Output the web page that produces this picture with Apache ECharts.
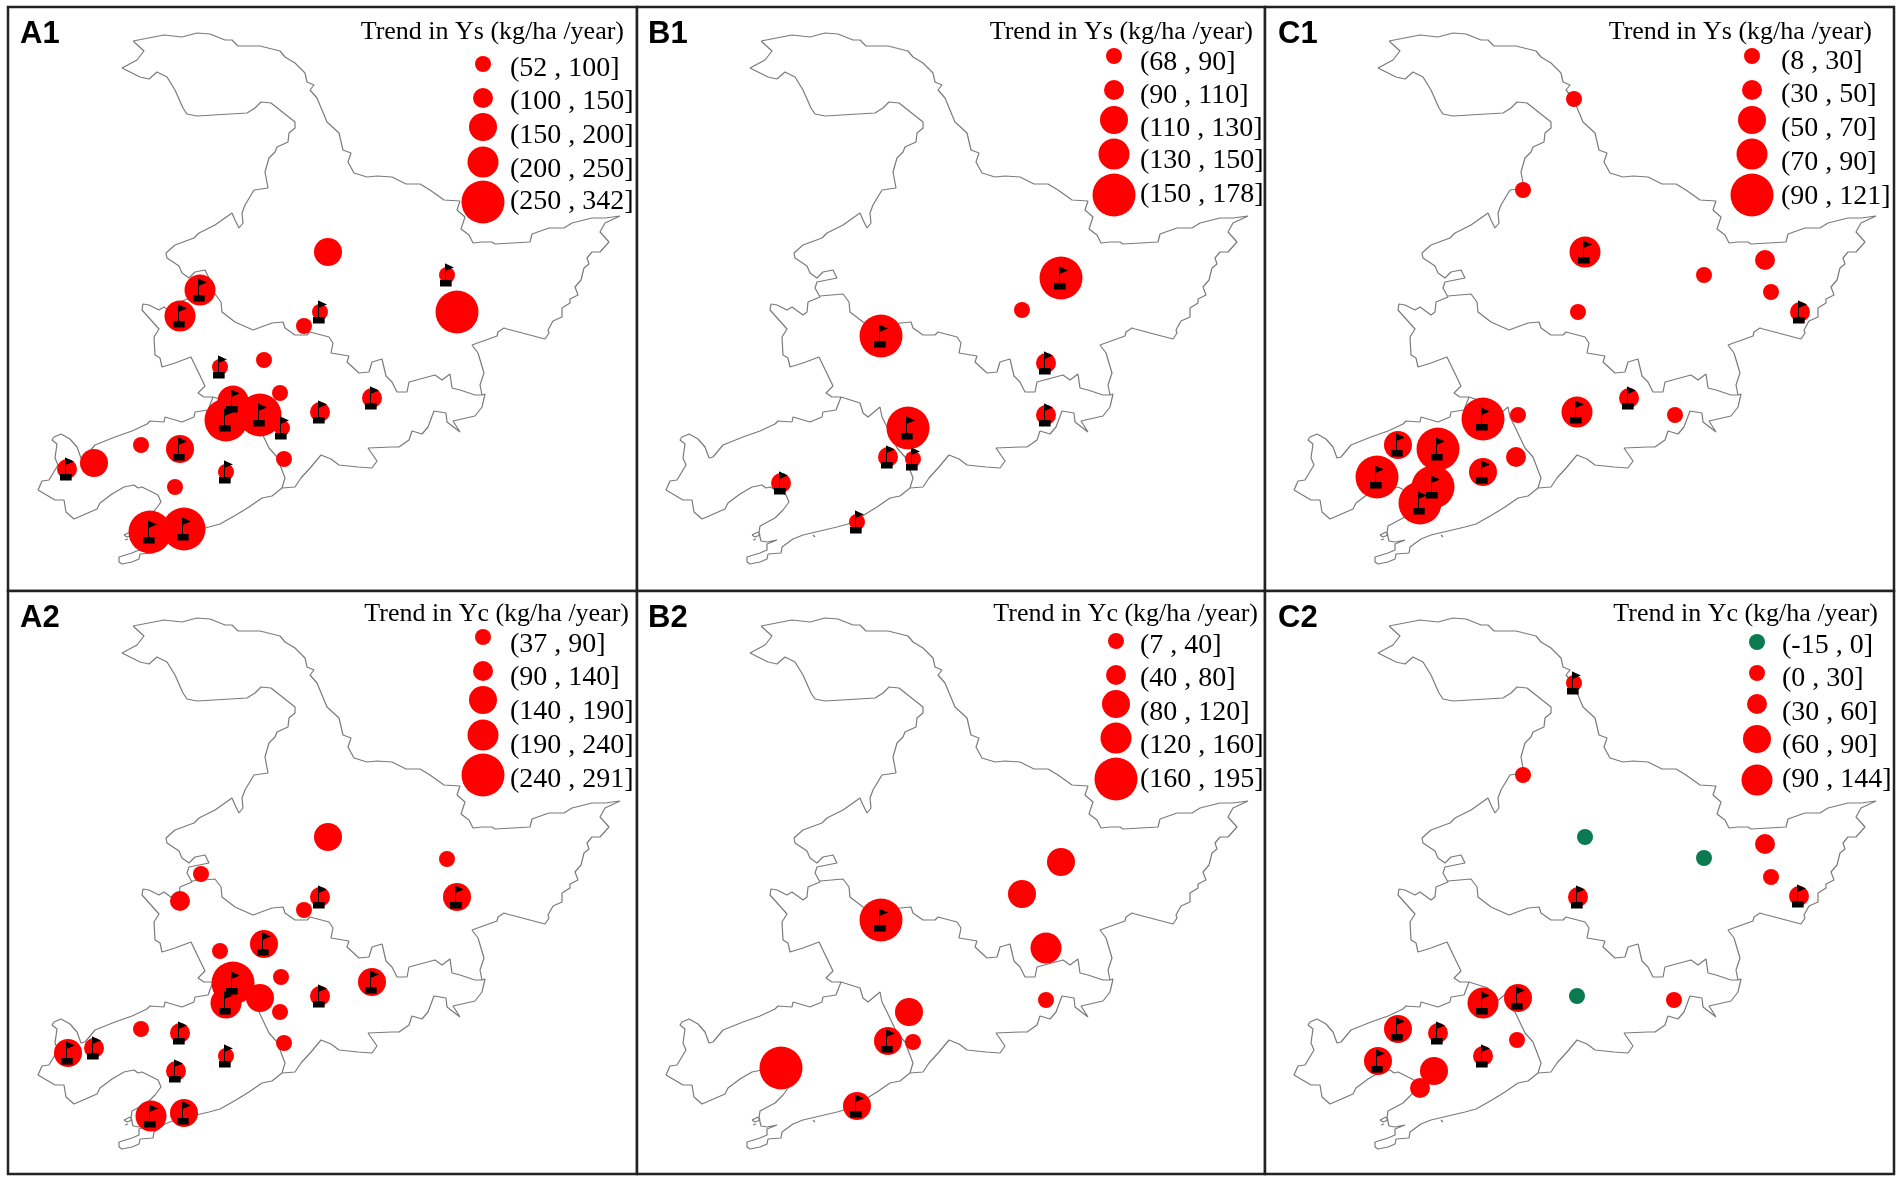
<!DOCTYPE html>
<html>
<head>
<meta charset="utf-8">
<title>Trend in Ys and Yc</title>
<script src="https://cdn.jsdelivr.net/npm/echarts@6/dist/echarts.min.js"></script>
<style>
  html, body { margin: 0; padding: 0; background: #fff; }
  #main { width: 1902px; height: 1182px; }
</style>
</head>
<body>
<div id="main"></div>
<script>
// outline of the study region, map units
let outerRing = [[761,41],[792,35],[793,37],[810,37],[825,33],[838,34],[853,40],[860,40],[866,46],[888,46],[908,51],[913,57],[923,63],[933,73],[935,82],[942,85],[938,90],[945,98],[955,122],[967,133],[971,150],[979,153],[976,162],[982,173],[995,177],[1005,176],[1020,177],[1034,184],[1048,184],[1058,190],[1072,200],[1088,201],[1085,210],[1093,217],[1089,229],[1097,235],[1101,243],[1110,242],[1120,242],[1123,244],[1158,242],[1160,234],[1177,228],[1192,228],[1200,223],[1220,218],[1233,218],[1248,216],[1248,218],[1233,223],[1228,232],[1237,242],[1228,252],[1220,252],[1215,258],[1217,264],[1212,268],[1209,280],[1203,287],[1206,295],[1198,299],[1198,303],[1190,308],[1190,317],[1181,321],[1176,330],[1177,333],[1173,339],[1135,329],[1132,328],[1126,332],[1125,336],[1100,345],[1106,353],[1112,373],[1108,385],[1110,395],[1113,394],[1110,407],[1103,416],[1081,421],[1088,432],[1075,422],[1074,413],[1062,411],[1056,427],[1050,434],[1040,431],[1037,440],[1027,447],[1020,447],[996,448],[1005,461],[1000,468],[986,467],[967,465],[959,459],[949,455],[939,467],[929,478],[923,487],[910,488],[900,496],[890,498],[877,507],[864,515],[848,524],[837,527],[820,531],[803,535],[793,539],[782,547],[781,553],[768,554],[767,559],[760,562],[750,564],[747,562],[747,557],[760,553],[767,550],[767,544],[777,540],[767,542],[761,541],[759,533],[760,526],[775,518],[783,510],[789,502],[786,495],[770,487],[766,488],[762,485],[752,487],[740,494],[728,503],[725,509],[702,519],[694,512],[692,500],[683,500],[666,490],[670,481],[677,480],[686,465],[683,458],[685,444],[680,440],[682,437],[689,434],[698,439],[705,447],[709,458],[713,457],[723,445],[743,437],[760,431],[775,424],[778,421],[792,422],[793,417],[810,422],[822,417],[823,412],[836,410],[841,397],[832,397],[826,393],[833,386],[819,357],[803,363],[790,367],[788,358],[783,355],[782,337],[787,329],[770,310],[771,304],[777,305],[787,310],[792,307],[803,315],[807,312],[808,302],[820,297],[815,288],[817,282],[837,278],[833,270],[823,272],[817,278],[810,273],[807,266],[795,258],[794,253],[803,245],[822,238],[827,233],[843,225],[860,213],[863,220],[867,228],[871,223],[870,213],[873,205],[882,190],[896,188],[893,172],[897,158],[903,152],[905,147],[916,142],[917,133],[923,128],[923,122],[899,103],[889,102],[883,108],[875,113],[825,116],[815,114],[811,108],[803,90],[795,77],[785,72],[777,79],[768,77],[750,68],[765,60],[772,51],[761,41]];
let borderNorth = [[820,296],[843,294],[849,302],[850,312],[863,322],[881,330],[900,323],[911,322],[913,328],[923,335],[935,335],[938,332],[957,337],[961,343],[959,353],[977,356],[975,362],[987,373],[997,372],[1000,362],[1010,359],[1014,376],[1020,382],[1025,392],[1035,392],[1037,382],[1063,375],[1070,380],[1078,374],[1080,388],[1088,390],[1103,395],[1110,395]];
let borderSouth = [[841,397],[860,403],[863,413],[868,417],[880,407],[882,417],[887,427],[897,448],[905,457],[913,478],[910,488]];
let islandA = [[752,535],[758,532],[760,535],[755,537],[752,535]];
let islandB = [[753,540],[756,539],[758,541],[754,541],[753,540]];
let islandC = [[813,535],[815,535],[815,537],[813,537],[813,535]];

// sites: x, y, size class (0 = negative trend in C2), flag
let sitesA1 = [[956,252,3,0],[1075,275,1,1],[1085,312,5,0],[948,312,1,1],[932,326,1,0],[828,290,4,1],[808,316,4,1],[848,367,1,1],[892,360,1,0],[861,401,4,1],[854,420,5,1],[888,415,5,1],[908,393,1,0],[910,428,1,1],[948,412,2,1],[1000,398,2,1],[912,459,1,0],[808,449,3,1],[769,445,1,0],[722,463,3,0],[695,469,2,1],[854,472,1,1],[803,487,1,0],[778,532,5,1],[812,529,5,1]];
let sitesB1 = [[1061,278,5,1],[1022,310,1,0],[1046,363,2,1],[881,336,5,1],[1046,415,2,1],[908,428,5,1],[888,457,2,1],[913,459,1,1],[781,483,2,1],[857,522,1,1]];
let sitesC1 = [[946,99,1,0],[895,190,1,0],[957,252,4,1],[1076,275,1,0],[1137,260,2,0],[1143,292,1,0],[950,312,1,0],[1172,312,2,1],[855,419,5,1],[890,415,1,0],[949,412,4,1],[1001,398,2,1],[1047,415,1,0],[770,445,3,1],[810,449,5,1],[888,457,2,0],[855,472,3,1],[749,477,5,1],[805,487,5,1],[792,503,5,1]];
let sitesA2 = [[956,252,3,0],[1075,274,1,0],[1085,312,3,1],[948,312,2,1],[932,325,1,0],[829,289,1,0],[808,316,2,0],[848,366,1,0],[892,359,3,1],[861,398,5,1],[854,418,4,1],[888,413,3,0],[909,392,1,0],[908,427,1,0],[948,411,2,1],[1000,397,3,1],[912,458,1,0],[808,448,2,1],[769,444,1,0],[722,463,2,1],[696,468,3,1],[854,471,1,1],[804,486,2,1],[779,531,4,1],[812,528,3,1]];
let sitesB2 = [[1061,277,3,0],[1022,309,3,0],[1046,363,4,0],[881,335,5,1],[1046,415,1,0],[909,427,3,0],[888,456,3,1],[913,457,1,0],[781,483,5,0],[857,521,3,1]];
let sitesC2 = [[946,98,1,1],[895,190,1,0],[957,252,0,0],[1076,273,0,0],[1137,259,2,0],[1143,292,1,0],[950,312,2,1],[1171,311,2,1],[855,418,4,1],[890,413,3,1],[949,411,0,0],[1046,415,1,0],[770,444,3,1],[810,448,2,1],[889,455,1,0],[855,471,2,1],[750,476,3,1],[806,486,3,0],[792,503,2,0]];

// legend ranges
let rangesA1 = ["(52 , 100]", "(100 , 150]", "(150 , 200]", "(200 , 250]", "(250 , 342]"];
let rangesB1 = ["(68 , 90]", "(90 , 110]", "(110 , 130]", "(130 , 150]", "(150 , 178]"];
let rangesC1 = ["(8 , 30]", "(30 , 50]", "(50 , 70]", "(70 , 90]", "(90 , 121]"];
let rangesA2 = ["(37 , 90]", "(90 , 140]", "(140 , 190]", "(190 , 240]", "(240 , 291]"];
let rangesB2 = ["(7 , 40]", "(40 , 80]", "(80 , 120]", "(120 , 160]", "(160 , 195]"];
let rangesC2 = ["(-15 , 0]", "(0 , 30]", "(30 , 60]", "(60 , 90]", "(90 , 144]"];

let RED = "#fe0000";
let GREEN = "#0b7a50";
let classSize = [16, 16, 20, 28, 31, 43];
let flagIcon = "path://M16 0L42 12L18 22L18 50L35 50L35 70L0 70L0 50L15 50L15 0Z";

let panels = [
  { name: "A1", sites: sitesA1, ranges: rangesA1, title: "Trend in Ys (kg/ha /year)", x0: 8, x1: 637, y0: 7, y1: 591, dx: -628, dy: 0,
    nameX: 20, nameY: 36, titleX: 624, titleY: 32, iconX: 483, labelX: 510, iconY: [64, 98, 127, 162, 202], labelY: [69, 102, 136, 170, 202], sizes: [1, 2, 3, 4, 5] },
  { name: "B1", sites: sitesB1, ranges: rangesB1, title: "Trend in Ys (kg/ha /year)", x0: 637, x1: 1265, y0: 7, y1: 591, dx: 0, dy: 0,
    nameX: 648, nameY: 36, titleX: 1253, titleY: 32, iconX: 1114, labelX: 1140, iconY: [56, 90, 120, 154, 195], labelY: [63, 96, 129, 161, 195], sizes: [1, 2, 3, 4, 5] },
  { name: "C1", sites: sitesC1, ranges: rangesC1, title: "Trend in Ys (kg/ha /year)", x0: 1265, x1: 1894, y0: 7, y1: 591, dx: 628, dy: 0,
    nameX: 1278, nameY: 36, titleX: 1872, titleY: 32, iconX: 1752, labelX: 1781, iconY: [56, 90, 120, 154, 195], labelY: [62, 95, 129, 163, 197], sizes: [1, 2, 3, 4, 5] },
  { name: "A2", sites: sitesA2, ranges: rangesA2, title: "Trend in Yc (kg/ha /year)", x0: 8, x1: 637, y0: 591, y1: 1174, dx: -628, dy: 585,
    nameX: 20, nameY: 620, titleX: 629, titleY: 614, iconX: 483, labelX: 510, iconY: [637, 671, 700, 735, 775], labelY: [645, 678, 712, 746, 780], sizes: [1, 2, 3, 4, 5] },
  { name: "B2", sites: sitesB2, ranges: rangesB2, title: "Trend in Yc (kg/ha /year)", x0: 637, x1: 1265, y0: 591, y1: 1174, dx: 0, dy: 585,
    nameX: 648, nameY: 620, titleX: 1258, titleY: 614, iconX: 1116, labelX: 1140, iconY: [641, 675, 704, 738, 779], labelY: [646, 679, 713, 746, 780], sizes: [1, 2, 3, 4, 5] },
  { name: "C2", sites: sitesC2, ranges: rangesC2, title: "Trend in Yc (kg/ha /year)", x0: 1265, x1: 1894, y0: 591, y1: 1174, dx: 628, dy: 585,
    nameX: 1278, nameY: 620, titleX: 1878, titleY: 614, iconX: 1757, labelX: 1782, iconY: [642, 673, 704, 739, 780], labelY: [646, 679, 713, 746, 780], sizes: [0, 1, 2, 3, 4] },
];

let grids = [], xAxes = [], yAxes = [], series = [], graphics = [];

panels.forEach(function (p, i) {
  grids.push({
    left: p.x0, top: p.y0, width: p.x1 - p.x0, height: p.y1 - p.y0,
    show: true, borderColor: "#222", borderWidth: 2.5, backgroundColor: "#fff",
  });
  xAxes.push({ type: "value", gridIndex: i, show: false, min: p.x0 - p.dx, max: p.x1 - p.dx });
  yAxes.push({ type: "value", gridIndex: i, show: false, inverse: true, min: p.y0 - p.dy, max: p.y1 - p.dy });

  [outerRing, borderNorth, borderSouth, islandA, islandB, islandC].forEach(function (path) {
    series.push({
      type: "line", xAxisIndex: i, yAxisIndex: i, data: path, showSymbol: false, silent: true, z: 2,
      lineStyle: { color: "#7a7a7a", width: 1.2 },
    });
  });
  series.push({
    type: "scatter", xAxisIndex: i, yAxisIndex: i, data: p.sites, z: 3,
    symbolSize: function (v) { return classSize[v[2]]; },
    itemStyle: { opacity: 1, color: function (d) { return d.value[2] === 0 ? GREEN : RED; } },
  });
  series.push({
    type: "scatter", xAxisIndex: i, yAxisIndex: i, z: 4,
    data: p.sites.filter(function (s) { return s[3] === 1; }),
    symbol: flagIcon, symbolSize: [14, 23],
    itemStyle: { color: "#000", opacity: 1 },
  });

  graphics.push({
    type: "text", left: p.nameX, top: p.nameY - 17, z: 10,
    style: { text: p.name, font: "bold 31px 'Liberation Sans'", fill: "#000" },
  });
  graphics.push({
    type: "text", x: p.titleX, y: p.titleY, z: 10,
    style: { text: p.title, font: "26px 'Liberation Serif'", fill: "#000", textAlign: "right", textVerticalAlign: "middle" },
  });
  p.ranges.forEach(function (label, k) {
    let cls = p.sizes[k];
    graphics.push({
      type: "circle", z: 9, shape: { cx: p.iconX, cy: p.iconY[k], r: classSize[cls] / 2 },
      style: { fill: cls === 0 ? GREEN : RED },
    });
    graphics.push({
      type: "text", x: p.labelX, y: p.labelY[k], z: 10,
      style: { text: label, font: "28px 'Liberation Serif'", fill: "#000", textAlign: "left", textVerticalAlign: "middle" },
    });
  });
});

let chart = echarts.init(document.getElementById("main"));
chart.setOption({
  animation: false,
  backgroundColor: "#fff",
  grid: grids,
  xAxis: xAxes,
  yAxis: yAxes,
  series: series,
  graphic: graphics,
});
</script>
</body>
</html>
